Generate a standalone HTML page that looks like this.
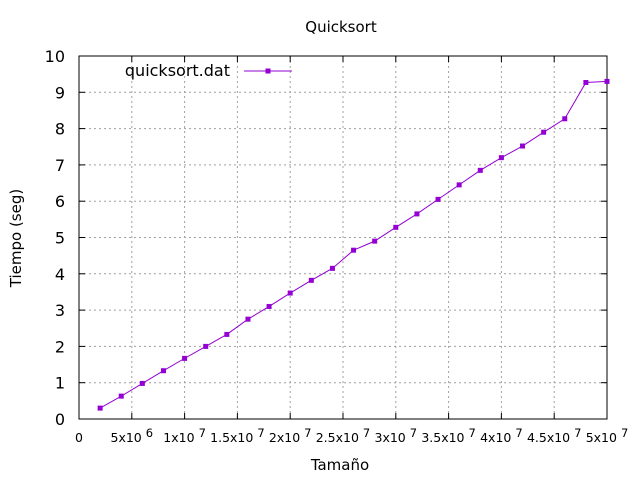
<!DOCTYPE html>
<html><head><meta charset="utf-8"><style>
body{margin:0;background:#fff}
svg{display:block;font-family:"DejaVu Sans","Liberation Sans",sans-serif}
</style></head><body>
<svg id="chart" width="640" height="480" xmlns="http://www.w3.org/2000/svg">
<text x="341" y="32" font-size="15" text-anchor="middle">Quicksort</text>
<text x="340" y="470" font-size="15" text-anchor="middle">Tamaño</text>
<text transform="translate(21,238) rotate(-90)" font-size="15" text-anchor="middle">Tiempo (seg)</text>
<g id="grid"></g>
<g id="ticks"></g>
<rect x="79" y="56" width="528" height="363" fill="none" stroke="#000" stroke-width="1"/>
<g id="series"></g>
<g>
<text x="230" y="76" font-size="16" text-anchor="end">quicksort.dat</text>
<line x1="244" y1="71" x2="292" y2="71" stroke="#9400d3" stroke-width="1"/>
<rect x="265.5" y="68.5" width="5" height="5" fill="#9400d3"/>
</g>
</svg>
<script>
const xValues=[2e6,4e6,6e6,8e6,1e7,1.2e7,1.4e7,1.6e7,1.8e7,2e7,2.2e7,2.4e7,2.6e7,2.8e7,3e7,3.2e7,3.4e7,3.6e7,3.8e7,4e7,4.2e7,4.4e7,4.6e7,4.8e7,5e7];
const yValues=[0.3,0.63,0.98,1.33,1.67,2.0,2.33,2.75,3.1,3.47,3.82,4.15,4.65,4.9,5.28,5.65,6.05,6.45,6.85,7.2,7.52,7.9,8.27,9.27,9.3];
const xTicks=[0,5e6,1e7,1.5e7,2e7,2.5e7,3e7,3.5e7,4e7,4.5e7,5e7];
const xTickMant=["0","5x10","1x10","1.5x10","2x10","2.5x10","3x10","3.5x10","4x10","4.5x10","5x10"];
const xTickExp=["","6","7","7","7","7","7","7","7","7","7"];
const yTicks=[0,1,2,3,4,5,6,7,8,9,10];
const NS="http://www.w3.org/2000/svg";
const X0=79,X1=607,Y0=419,Y1=56;
function sx(v){return X0+(v-0)/(5e7)*(X1-X0);}
function sy(v){return Y0-(v/10)*(Y0-Y1);}
const grid=document.getElementById('grid'),ticks=document.getElementById('ticks'),series=document.getElementById('series');
function mk(tag,attrs,parent){const e=document.createElementNS(NS,tag);for(const k in attrs)e.setAttribute(k,attrs[k]);parent.appendChild(e);return e;}
yTicks.forEach((t,i)=>{
 const y=sy(t);
 if(t>0&&t<10){const g=mk('line',{x1:X0,x2:X1,y1:y,y2:y,stroke:'#a0a0a0','stroke-dasharray':'2,3'},grid);
 
 }
 const l=mk('line',{x1:X0,x2:X0+6,y1:y,y2:y,stroke:'#000'},ticks);
 
 
 const l2=mk('line',{x1:X1-6,x2:X1,y1:y,y2:y,stroke:'#000'},ticks);
 
 
 const tx=mk('text',{x:65,y:y+6,'font-size':16,'text-anchor':'end'},ticks);tx.textContent=String(t);
 
 
});
xTicks.forEach((t,i)=>{
 const x=sx(t);
 if(t>0&&t<5e7){const g=mk('line',{x1:x,x2:x,y1:Y1,y2:Y0,stroke:'#a0a0a0','stroke-dasharray':'2,3'},grid);
 
 }
 const l=mk('line',{x1:x,x2:x,y1:Y0,y2:Y0-6,stroke:'#000'},ticks);
 
 
 const l2=mk('line',{x1:x,x2:x,y1:Y1,y2:Y1+6,stroke:'#000'},ticks);
 
 
 const tx=mk('text',{x:x,y:442,'font-size':12.5,'text-anchor':'middle'},ticks);
 tx.textContent=xTickMant[i];
 if(xTickExp[i]){const ts=mk('tspan',{dx:4,dy:-5,'font-size':11.5},tx);ts.textContent=xTickExp[i];}
 
 
});
const pts=xValues.map((v,i)=>sx(v)+','+sy(yValues[i])).join(' ');
const pl=mk('polyline',{points:pts,fill:'none',stroke:'#9400d3','stroke-width':1},series);


xValues.forEach((v,i)=>{
 const m=mk('rect',{x:sx(v)-2.5,y:sy(yValues[i])-2.5,width:5,height:5,fill:'#9400d3'},series);
 
 
});
</script>
</body></html>
